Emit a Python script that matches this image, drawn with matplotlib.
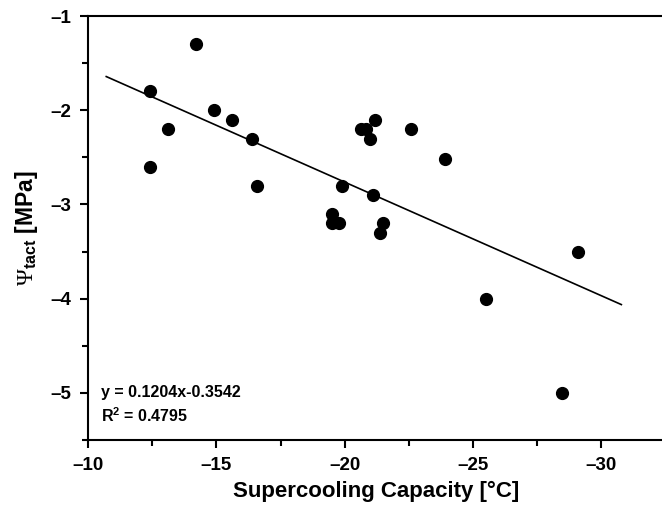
import matplotlib
matplotlib.use("Agg")
import matplotlib.pyplot as plt
import numpy as np
from matplotlib.ticker import MultipleLocator

# supercooling capacity (°C) and turgor-loss water potential (MPa)
supercooling = [-14.2, -12.4, -12.4, -13.1, -14.9, -15.6, -16.4, -16.6,
                -19.9, -19.5, -19.5, -19.8, -20.65, -20.85, -21.2, -21.0,
                -21.1, -21.5, -21.4, -22.6, -23.9, -29.1, -25.5, -28.5]
psi_tact = [-1.3, -1.8, -2.6, -2.2, -2.0, -2.1, -2.3, -2.8,
            -2.8, -3.1, -3.2, -3.2, -2.2, -2.2, -2.1, -2.3,
            -2.9, -3.2, -3.3, -2.2, -2.52, -3.5, -4.0, -5.0]

slope = 0.1204
intercept = -0.3542
r2 = 0.4795
fit_range = [-10.7, -30.8]

plt.rcParams['font.family'] = ['Liberation Sans', 'DejaVu Sans']
plt.rcParams['mathtext.fontset'] = 'custom'
plt.rcParams['mathtext.rm'] = 'Liberation Serif'
plt.rcParams['mathtext.bf'] = 'Liberation Sans:bold'

fig = plt.figure(figsize=(6.62, 5.07), dpi=100)
ax = fig.add_axes([0.1334, 0.1321, 0.871, 0.8363])

ax.plot(supercooling, psi_tact, 'o', color='black', markersize=8.5, zorder=3)
fx = np.array(fit_range)
ax.plot(fx, slope * fx + intercept, color='black', lw=1.2)

ax.set_xlim(-10, -32.5)
ax.set_ylim(-5.5, -1)
ax.xaxis.set_major_locator(MultipleLocator(5))
ax.xaxis.set_minor_locator(MultipleLocator(2.5))
ax.yaxis.set_major_locator(MultipleLocator(1))
ax.yaxis.set_minor_locator(MultipleLocator(0.5))

def fmt(v, pos):
    return '\u2013' + '%g' % abs(v) if v < 0 else '%g' % v

ax.xaxis.set_major_formatter(plt.FuncFormatter(fmt))
ax.yaxis.set_major_formatter(plt.FuncFormatter(fmt))

for s in ax.spines.values():
    s.set_linewidth(1.5)
ax.tick_params(which='major', direction='out', length=6, width=1.5,
               labelsize=13.5, pad=6)
ax.tick_params(which='minor', direction='out', length=4, width=1.5)
for lab in ax.get_xticklabels() + ax.get_yticklabels():
    lab.set_fontweight('bold')

ax.set_xlabel('Supercooling Capacity [°C]', fontsize=16, fontweight='bold', labelpad=5)
ax.set_ylabel(r'$\mathrm{\Psi}_{\mathbf{tact}}$ [MPa]', fontsize=16.5, fontweight='bold',
              labelpad=8)

ax.text(0.022, 0.111, 'y = %.4fx%.4f' % (slope, intercept), transform=ax.transAxes,
        fontsize=11.5, fontweight='bold', va='center')
ax.text(0.022, 0.057, r'R$^{\mathbf{2}}$ = %.4f' % r2, transform=ax.transAxes,
        fontsize=11.5, fontweight='bold', va='center')

fig.savefig('out.png', dpi=100)
